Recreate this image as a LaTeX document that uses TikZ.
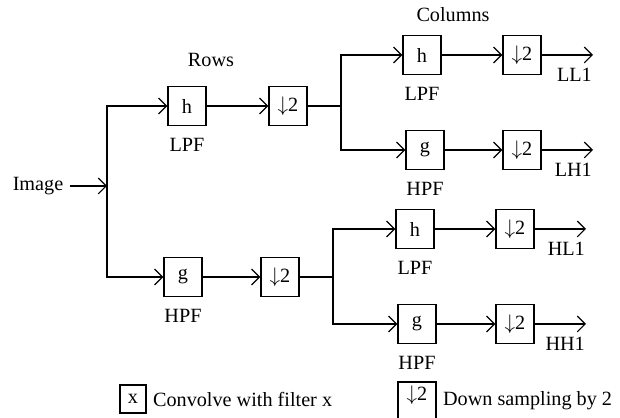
\documentclass[tikz,border=0pt]{standalone}
\usepackage{fontspec}
\setmainfont{Liberation Serif}
\usetikzlibrary{arrows.meta,positioning}
\tikzset{
  filt/.style={draw,minimum width=0.76cm,minimum height=0.78cm,inner sep=0pt},
  outlbl/.style={anchor=north east,xshift=3pt,yshift=-4pt}
}
\begin{document}
\begin{tikzpicture}[x=0.02cm,y=-0.02cm,line width=0.7pt,
    >={Straight Barb[length=4.5pt,width=9pt]},
    font=\fontsize{11.5}{13.5}\selectfont]
  \useasboundingbox (0,0) rectangle (620,418);
  % Rows
  \node (img) at (38,186) {Image};
  \coordinate (sRow) at (107,186);
  \node[filt] (hR) at (187,106) {h};
  \node[filt] (dR1) at (288,106) {$\downarrow$2};
  \node[filt] (gR) at (183,277) {g};
  \node[filt] (dR2) at (280,277) {$\downarrow$2};
  \node[below=3pt of hR] (lpfR) {LPF};
  \node[below=3pt of gR] (hpfR) {HPF};
  \node (rows) at (211,60) {Rows};
  \draw[->] (img) -- (sRow);
  \draw[->] (sRow) |- (hR);
  \draw[->] (sRow) |- (gR);
  \draw[->] (hR) -- (dR1);
  \draw[->] (gR) -- (dR2);
  \coordinate (sTop) at (341,106);
  \coordinate (sBot) at (333,277);
  \draw (dR1) -- (sTop);
  \draw (dR2) -- (sBot);
  % Columns
  \node (cols) at (453,15) {Columns};
  \foreach \nm/\f/\fx/\dx/\y/\ox/\lbl in {LL/h/422/522/55/593/LPF, LH/g/425/522/150/593/HPF,
      HL/h/415/515/229/586/LPF, HH/g/417/515/324/586/HPF}{
    \node[filt] (f\nm) at (\fx,\y) {\f};
    \node[filt] (d\nm) at (\dx,\y) {$\downarrow$2};
    \node[below=3pt of f\nm] (l\nm) {\lbl};
    \coordinate (o\nm) at (\ox,\y);
    \node[outlbl] (t\nm) at (o\nm) {\nm1};
    \draw[->] (f\nm) -- (d\nm);
    \draw[->] (d\nm) -- (o\nm);
  }
  \draw[->] (sTop) |- (fLL);
  \draw[->] (sTop) |- (fLH);
  \draw[->] (sBot) |- (fHL);
  \draw[->] (sBot) |- (fHH);
  % Legend
  \node[filt,minimum width=0.52cm,minimum height=0.56cm] (keyF) at (133,399) {x};
  \node[right=0pt of keyF] (keyFt) {Convolve with filter x};
  \node[filt,minimum height=0pt,text height=10.5pt,text depth=11pt] (keyD) at (417,401) {$\downarrow$2};
  \node[right=0pt of keyD] (keyDt) {Down sampling by 2};
\end{tikzpicture}
\end{document}
